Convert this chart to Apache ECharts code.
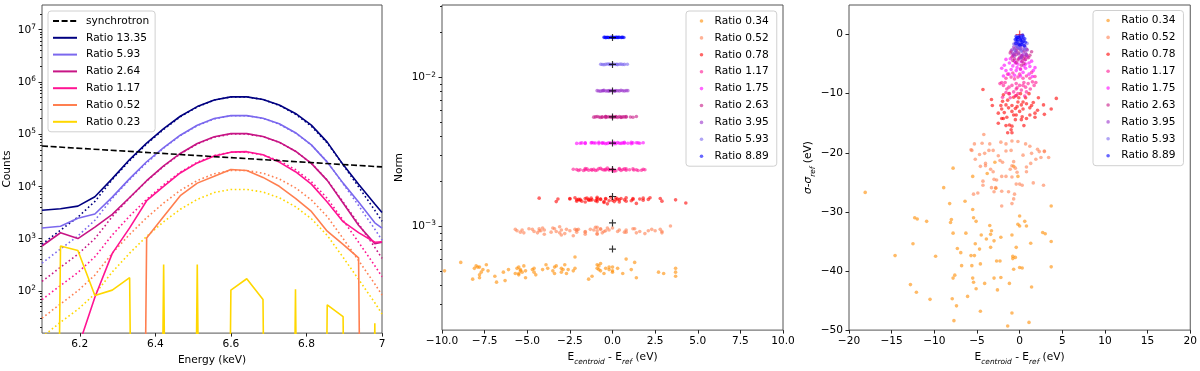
<!DOCTYPE html>
<html>
<head>
<meta charset="utf-8">
<script src="https://cdn.jsdelivr.net/npm/echarts@6.0.0/dist/echarts.min.js"></script>
<style>
  html, body { margin: 0; padding: 0; background: #fff; }
  #chart { width: 1200px; height: 371px; }
</style>
</head>
<body>
<div id="chart"></div>
<script>
const FONT = 'DejaVu Sans';
// empty bin: drawn like matplotlib's clipped zero on a log axis
const Z = 1e-30;

// ---------- left panel: spectra ----------
const energy = [6.1, 6.149, 6.195, 6.24, 6.286, 6.332, 6.377, 6.422, 6.466, 6.511, 6.556,
                6.6, 6.642, 6.685, 6.728, 6.771, 6.813, 6.855, 6.897, 6.938, 6.981, 7.0];
const synchE = [6.1, 6.4, 6.7, 7.0];
const synchCounts = [59000, 43400, 31900, 23500];

const data1335 = [3470, 3720, 4170, 6300, 14000, 32500, 67000, 127000, 219000, 335000, 450000,
                  515000, 515000, 460000, 360000, 248000, 148000, 70000, 26000, 11000, 4600, 3160];
const model1335 = [776, 1450, 2570, 5130, 13500, 30900, 64600, 123000, 214000, 331000, 447000,
                   513000, 513000, 457000, 355000, 240000, 141000, 67600, 25700, 9770, 3470, 2140];
const data593 = [1590, 1720, 2450, 2950, 6200, 14000, 29500, 55000, 95000, 147000, 198000,
                 225000, 225000, 201000, 157000, 106000, 62000, 29000, 11500, 5000, 2000, 1590];
const model593 = [339, 631, 1120, 2240, 5890, 13500, 28200, 53700, 93300, 145000, 195000,
                  224000, 224000, 200000, 155000, 105000, 61700, 29500, 11200, 4270, 1510, 933];
const data264 = [720, 1290, 1000, 1660, 2900, 6100, 12800, 24500, 42500, 66000, 89000,
                 102000, 102000, 90000, 70000, 47000, 27500, 13000, 4800, 1800, 800, 850];
const model264 = [151, 282, 501, 1000, 2630, 6030, 12600, 24000, 41700, 64600, 87100,
                  100000, 100000, 89100, 69200, 46800, 27500, 13200, 5010, 1910, 676, 417];
const data117 = [2, 4, 8, 75, 520, 1600, 5300, 10000, 18000, 28000, 38000,
                 45000, 46000, 40000, 29000, 19000, 11000, 5000, 2100, 1300, 850, 870];
const model117 = [68, 126, 224, 447, 1170, 2690, 5620, 10700, 18600, 28800, 38900,
                  44700, 44700, 39800, 30900, 20900, 12300, 5890, 2240, 851, 302, 186];
const data052 = [Z, Z, Z, Z, Z, Z, 1020, 2630, 6600, 11500, 15500,
                 21000, 20000, 14800, 10000, 5900, 3300, 1380, 776, 427, Z, Z];
const model052 = [30, 56, 100, 200, 525, 1200, 2510, 4790, 8320, 12900, 17400,
                  20000, 20000, 17800, 13800, 9330, 5500, 2630, 1000, 380, 135, 83];
const data023 = [Z, 718, 590, 81, 103, 178, Z, 320, Z, 320, Z,
                 103, 170, 68, Z, 107, Z, 54, 32, Z, 24, Z];
const model023 = [13, 25, 44, 87, 229, 525, 1100, 2090, 3630, 5620, 7590,
                  8710, 8710, 7760, 6030, 4070, 2400, 1150, 437, 166, 59, 36];

const spectra = [
  { label: 'Ratio 13.35', color: '#000080', data: data1335, model: model1335 },
  { label: 'Ratio 5.93', color: '#7b68ee', data: data593, model: model593 },
  { label: 'Ratio 2.64', color: '#c71585', data: data264, model: model264 },
  { label: 'Ratio 1.17', color: '#ff1493', data: data117, model: model117 },
  { label: 'Ratio 0.52', color: '#ff7f50', data: data052, model: model052 },
  { label: 'Ratio 0.23', color: '#ffd700', data: data023, model: model023 }
];

const energyTicks = [6.2, 6.4, 6.6, 6.8, 7.0];
const countTicks = [1e2, 1e3, 1e4, 1e5, 1e6, 1e7];

// ---------- middle / right panels: fits ----------
const ratioNames = ['Ratio 0.34', 'Ratio 0.52', 'Ratio 0.78', 'Ratio 1.17', 'Ratio 1.75',
                    'Ratio 2.63', 'Ratio 3.95', 'Ratio 5.93', 'Ratio 8.89'];
const ratioColors = ['#ff8c00', '#ff7f50', '#ff0000', '#ff1493', '#ff00ff',
                     '#c71585', '#9932cc', '#7b68ee', '#0000ff'];
const refNorm = [0.0007, 0.00105, 0.00158, 0.0024, 0.00361, 0.00541, 0.00809, 0.01218, 0.01846];

const normTicks = [1e-3, 1e-2];
const dETicks = [-10, -7.5, -5, -2.5, 0, 2.5, 5, 7.5, 10];
const dEWideTicks = [-20, -15, -10, -5, 0, 5, 10, 15, 20];
const dSigmaTicks = [-50, -40, -30, -20, -10, 0];

// each point: [E_centroid - E_ref (eV), Norm, sigma - sigma_ref (eV)]
const r034 = [
  [-18.1, 0.00052, -26.7], [-14.6, 0.00047, -37.4], [-12.3, 0.00055, -31.0], [-12.0, 0.00049, -31.2],
  [-12.5, 0.00044, -35.4], [-12.8, 0.00051, -42.3], [-12.1, 0.00058, -43.6], [-10.9, 0.00046, -31.6],
  [-10.5, 0.00053, -44.8], [-9.85, 0.00050, -37.5], [-8.9, 0.00057, -25.9], [-7.8, 0.00053, -22.6],
  [-8.2, 0.00044, -28.6], [-8.1, 0.00052, -31.8], [-8.0, 0.00054, -31.3], [-7.8, 0.00047, -33.6],
  [-7.8, 0.00045, -41.2], [-7.9, 0.00053, -44.7], [-7.7, 0.00049, -48.4], [-7.6, 0.00051, -40.7],
  [-7.4, 0.00055, -45.9], [-7.3, 0.00050, -36.2], [-6.9, 0.00046, -36.9], [-6.8, 0.00042, -39.1],
  [-6.4, 0.00049, -28.2], [-6.3, 0.00043, -33.6], [-6.1, 0.00051, -44.3], [-5.7, 0.00048, -37.4],
  [-5.5, 0.00053, -29.6], [-5.4, 0.00050, -31.0], [-5.6, 0.00052, -39.1], [-5.5, 0.00047, -41.2],
  [-5.4, 0.00051, -41.9], [-5.3, 0.00049, -37.4], [-5.2, 0.00054, -35.4], [-5.1, 0.00045, -31.6],
  [-5.1, 0.00050, -43.0], [-5.5, 0.00048, -24.0], [-4.7, 0.00051, -36.3], [-4.6, 0.00052, -38.8],
  [-4.6, 0.00049, -46.8], [-4.5, 0.00047, -33.9], [-4.1, 0.00051, -42.1], [-3.9, 0.00055, -34.6],
  [-3.5, 0.00050, -32.3], [-3.8, 0.00052, -23.5], [-3.4, 0.00053, -33.8], [-3.4, 0.00048, -36.0],
  [-3.3, 0.00054, -33.2], [-2.9, 0.00051, -21.6], [-3.0, 0.00049, -34.9], [-2.8, 0.00055, -26.0],
  [-3.0, 0.00052, -41.2], [-2.7, 0.00048, -38.3], [-2.6, 0.00051, -43.2], [-2.3, 0.00050, -38.3],
  [-2.2, 0.00062, -41.1], [-2.2, 0.00052, -34.3], [-1.4, 0.00044, -49.3], [-1.2, 0.00046, -42.1],
  [-0.9, 0.00052, -47.1], [-0.9, 0.00055, -33.9], [-0.8, 0.00054, -37.5], [-0.7, 0.00056, -22.3],
  [-0.8, 0.00051, -37.9], [-0.7, 0.00050, -39.7], [-0.5, 0.00048, -37.7], [-0.4, 0.00052, -36.0],
  [-0.2, 0.00053, -24.0], [-0.2, 0.00051, -32.1], [0.0, 0.00050, -30.7], [0.0, 0.00053, -32.4],
  [0.0, 0.00049, -39.4], [0.3, 0.00052, -39.5], [0.6, 0.00048, -31.6], [0.8, 0.00060, -32.4],
  [1.1, 0.00051, -48.7], [1.3, 0.00057, -35.3], [1.4, 0.00045, -42.7], [2.7, 0.00049, -33.5],
  [3.0, 0.00048, -33.7], [3.7, 0.00052, -29.0], [3.7, 0.00049, -39.3], [3.7, 0.00046, -35.0]
];
const r052 = [
  [-5.6, 0.00093, -19.6], [-4.1, 0.00097, -20.1], [-3.6, 0.00091, -19.6], [-3.1, 0.00099, -19.6],
  [-4.7, 0.00095, -20.3], [-5.2, 0.00090, -21.1], [-4.0, 0.00094, -21.8], [-4.0, 0.00088, -22.2],
  [-4.6, 0.00092, -22.3], [-3.4, 0.00096, -22.8], [-2.5, 0.00093, -20.5], [-2.3, 0.00086, -21.3],
  [-2.0, 0.00095, -21.6], [-1.6, 0.00091, -19.7], [-1.0, 0.00098, -19.6], [-1.1, 0.00094, -22.8],
  [-0.9, 0.00089, -22.2], [-0.7, 0.00096, -21.5], [-0.5, 0.00092, -22.6], [-0.3, 0.00097, -23.3],
  [-0.9, 0.00093, -24.1], [-1.6, 0.00088, -24.0], [-2.1, 0.00094, -24.0], [-3.1, 0.00090, -23.2],
  [-2.7, 0.00095, -24.6], [-3.0, 0.00087, -24.5], [-4.3, 0.00093, -24.8], [-4.3, 0.00096, -25.5],
  [-3.3, 0.00092, -25.9], [-2.8, 0.00089, -25.9], [-3.0, 0.00094, -26.6], [-2.1, 0.00091, -26.5],
  [-1.3, 0.00095, -26.6], [-0.6, 0.00090, -27.0], [-0.4, 0.00093, -25.3], [0.0, 0.00097, -25.3],
  [0.3, 0.00092, -25.5], [-0.7, 0.00095, -27.8], [-0.9, 0.00088, -28.6], [-2.1, 0.00094, -29.0],
  [-5.4, 0.00091, -27.0], [-4.9, 0.00096, -26.8], [0.4, 0.00094, -20.4], [1.4, 0.00090, -20.1],
  [2.3, 0.00095, -19.8], [2.9, 0.00092, -19.8], [1.3, 0.00096, -21.8], [1.9, 0.00089, -21.1],
  [2.5, 0.00093, -20.8], [3.4, 0.00100, -20.8], [0.8, 0.00091, -22.4], [0.8, 0.00094, -23.2],
  [1.6, 0.00092, -25.1], [2.8, 0.00095, -25.5], [-4.2, 0.00093, -16.9], [-3.5, 0.00097, -18.5],
  [-5.3, 0.00094, -18.5], [-4.4, 0.00090, -18.4], [-2.2, 0.00095, -18.2], [-1.6, 0.00092, -18.5],
  [-0.9, 0.00098, -18.0], [-0.2, 0.00094, -18.1], [0.7, 0.00091, -18.5], [1.2, 0.00096, -18.9],
  [2.1, 0.00093, -19.4], [2.9, 0.00090, -19.7], [-5.7, 0.00095, -19.5]
];
const r078 = [
  [-4.3, 0.00154, -9.3], [4.3, 0.00143, -10.8], [3.7, 0.00150, -12.6], [2.8, 0.00153, -11.9],
  [2.2, 0.00155, -10.7], [1.6, 0.00152, -11.5], [1.8, 0.00149, -13.3], [1.8, 0.00154, -14.0],
  [1.2, 0.00151, -13.6], [0.8, 0.00147, -14.2], [0.5, 0.00153, -15.4], [0.2, 0.00150, -14.4],
  [0.4, 0.00145, -12.6], [0.2, 0.00155, -11.9], [-0.2, 0.00148, -11.4], [-0.4, 0.00152, -13.6],
  [-0.5, 0.00146, -14.4], [-0.7, 0.00151, -13.6], [-0.9, 0.00156, -12.0], [-1.3, 0.00149, -12.4],
  [-1.6, 0.00153, -11.9], [-2.0, 0.00151, -11.3], [-1.8, 0.00147, -13.2], [-1.5, 0.00154, -14.0],
  [-2.1, 0.00150, -14.2], [-2.5, 0.00152, -15.0], [-1.6, 0.00145, -15.4], [-1.2, 0.00150, -15.3],
  [-0.9, 0.00153, -16.6], [-1.0, 0.00148, -16.1], [-1.4, 0.00151, -16.6], [-2.2, 0.00155, -12.0],
  [-1.4, 0.00149, -11.1], [-0.7, 0.00152, -10.6], [-0.1, 0.00156, -10.7], [0.7, 0.00150, -10.7],
  [0.1, 0.00146, -10.0], [1.2, 0.00153, -12.4], [1.1, 0.00148, -10.0], [-3.2, 0.00152, -12.0],
  [-2.1, 0.00147, -12.6], [-1.9, 0.00151, -14.2], [0.0, 0.00149, -13.0], [-0.5, 0.00144, -12.5],
  [-1.25, 0.00154, -10.0], [2.1, 0.00151, -12.8], [2.9, 0.00147, -13.5], [-0.4, 0.00153, -10.3],
  [0.4, 0.00150, -11.4], [-0.9, 0.00146, -13.0], [0.3, 0.00152, -13.9], [0.8, 0.00155, -11.7],
  [-1.9, 0.00149, -10.2], [-2.5, 0.00153, -13.3], [-0.9, 0.00150, -15.5], [1.4, 0.00142, -12.0],
  [-0.3, 0.00141, -12.2], [-3.3, 0.00146, -11.0]
];
const r117 = [
  [-2.1, 0.00240, -8.1], [-1.7, 0.00236, -8.1], [-1.5, 0.00242, -9.2], [-0.9, 0.00238, -8.6],
  [-0.4, 0.00241, -8.3], [0.0, 0.00237, -8.6], [0.4, 0.00243, -8.6], [1.0, 0.00239, -8.3],
  [1.5, 0.00236, -8.0], [1.8, 0.00241, -7.1], [1.25, 0.00238, -9.2], [0.8, 0.00242, -9.7],
  [0.2, 0.00235, -9.4], [-0.2, 0.00240, -10.0], [-0.7, 0.00244, -9.7], [-1.2, 0.00237, -10.0],
  [-1.9, 0.00239, -8.6], [-1.6, 0.00243, -7.4], [-1.0, 0.00236, -7.2], [-0.6, 0.00240, -7.5],
  [-0.2, 0.00238, -7.2], [0.4, 0.00241, -7.4], [0.8, 0.00237, -7.0], [1.2, 0.00242, -7.4],
  [1.4, 0.00239, -6.4], [-2.0, 0.00236, -10.6], [-1.1, 0.00241, -10.7], [-0.5, 0.00238, -10.4],
  [0.6, 0.00240, -10.4], [-0.8, 0.00243, -6.5], [-1.4, 0.00237, -6.7], [0.0, 0.00241, -6.7],
  [0.5, 0.00236, -8.1], [-1.25, 0.00240, -8.9], [-0.4, 0.00238, -9.2], [0.7, 0.00242, -8.9],
  [-1.6, 0.00239, -9.8], [1.7, 0.00237, -8.6], [-2.3, 0.00241, -8.3], [1.9, 0.00239, -8.1],
  [0.1, 0.00234, -5.8], [-0.3, 0.00245, -9.0]
];
const r175 = [
  [-1.6, 0.00362, -4.2], [-2.1, 0.00359, -5.7], [-1.2, 0.00364, -4.8], [-0.6, 0.00360, -4.5],
  [-0.2, 0.00363, -5.0], [0.2, 0.00358, -4.6], [0.6, 0.00362, -4.3], [1.1, 0.00365, -4.8],
  [1.6, 0.00360, -6.1], [1.8, 0.00363, -5.6], [-1.0, 0.00361, -5.9], [-0.4, 0.00357, -6.1],
  [0.1, 0.00364, -5.9], [0.7, 0.00360, -5.7], [1.2, 0.00362, -5.4], [-0.8, 0.00366, -5.3],
  [-1.6, 0.00359, -6.1], [-1.25, 0.00362, -6.7], [0.4, 0.00360, -6.4], [1.1, 0.00357, -6.7],
  [-0.6, 0.00363, -6.9], [-0.1, 0.00361, -4.1], [-0.8, 0.00358, -3.6], [0.3, 0.00364, -3.5],
  [0.9, 0.00360, -3.8], [-1.8, 0.00362, -5.2], [-0.3, 0.00359, -5.6], [1.4, 0.00363, -4.5],
  [-1.1, 0.00361, -4.1], [-1.9, 0.00360, -7.0], [0.7, 0.00365, -5.0], [0.1, 0.00358, -7.0],
  [1.5, 0.00362, -7.1], [-0.5, 0.00361, -4.8], [0.5, 0.00359, -5.3]
];
const r263 = [
  [-1.0, 0.00541, -2.8], [-0.7, 0.00537, -3.4], [-0.4, 0.00544, -2.7], [-0.1, 0.00539, -3.1],
  [0.2, 0.00542, -3.6], [0.5, 0.00538, -2.8], [0.8, 0.00543, -3.4], [1.05, 0.00540, -3.9],
  [1.4, 0.00545, -2.9], [-0.6, 0.00538, -4.1], [-0.2, 0.00542, -4.3], [0.3, 0.00536, -4.5],
  [0.7, 0.00541, -4.2], [-0.9, 0.00544, -3.8], [0.1, 0.00539, -2.4], [-0.4, 0.00543, -4.75],
  [0.5, 0.00537, -4.9], [0.0, 0.00541, -3.9], [1.2, 0.00538, -3.5], [-0.6, 0.00542, -2.4],
  [0.8, 0.00540, -2.5], [-1.1, 0.00539, -3.1], [0.2, 0.00543, -5.2], [-0.4, 0.00537, -3.4],
  [0.6, 0.00541, -3.75], [-0.3, 0.00540, -2.0], [0.4, 0.00544, -4.0], [-0.8, 0.00540, -4.4]
];
const r395 = [
  [-0.9, 0.00812, -2.6], [-0.7, 0.00806, -2.1], [-0.5, 0.00815, -3.0], [-0.3, 0.00809, -2.4],
  [-0.1, 0.00813, -3.3], [0.1, 0.00807, -2.0], [0.3, 0.00811, -2.8], [0.5, 0.00816, -2.3],
  [0.7, 0.00808, -3.1], [0.9, 0.00812, -2.6], [-0.6, 0.00810, -3.6], [-0.2, 0.00805, -1.7],
  [0.2, 0.00814, -3.8], [0.6, 0.00810, -1.9], [-0.8, 0.00808, -3.2], [0.8, 0.00813, -3.5],
  [0.0, 0.00811, -2.5], [-0.4, 0.00807, -2.9], [0.4, 0.00809, -3.4], [-0.2, 0.00814, -2.2],
  [0.15, 0.00806, -4.0], [-0.55, 0.00812, -1.6]
];
const r593 = [
  [-0.69, 0.01221, -1.6], [-0.5, 0.01214, -1.1], [-0.3, 0.01226, -2.0], [-0.1, 0.01218, -1.4],
  [0.1, 0.01223, -2.4], [0.3, 0.01215, -1.2], [0.5, 0.01224, -1.8], [0.7, 0.01219, -2.2],
  [0.87, 0.01222, -1.5], [-0.6, 0.01217, -2.6], [-0.2, 0.01225, -0.9], [0.2, 0.01216, -2.8],
  [0.4, 0.01221, -0.8], [-0.4, 0.01220, -1.9], [0.6, 0.01218, -2.5], [0.0, 0.01223, -1.7],
  [-0.15, 0.01216, -2.2], [0.25, 0.01222, -1.3]
];
const r889 = [
  [-0.5, 0.01852, -0.8], [-0.4, 0.01845, -0.3], [-0.3, 0.01857, -1.2], [-0.2, 0.01848, -0.5],
  [-0.1, 0.01855, -1.6], [0.0, 0.01850, -0.2], [0.1, 0.01846, -1.0], [0.2, 0.01856, -0.6],
  [0.3, 0.01849, -1.4], [0.4, 0.01853, -0.4], [0.5, 0.01847, -1.1], [0.6, 0.01855, -0.7],
  [0.67, 0.01850, -1.3], [-0.45, 0.01854, -1.5], [-0.25, 0.01847, -0.9], [0.05, 0.01853, -1.8],
  [0.35, 0.01851, -0.1], [0.15, 0.01848, -0.9], [-0.05, 0.01856, -0.5], [0.25, 0.01852, -1.7],
  [-0.35, 0.01849, -0.6], [0.55, 0.01851, -1.9]
];
const fits = [r034, r052, r078, r117, r175, r263, r395, r593, r889];

// ---------- helpers ----------
const TXT = { color: '#000', fontFamily: FONT, fontSize: 10.6 };
const PLUS = 'path://M2.5,0H3.5V2.5H6V3.5H3.5V6H2.5V3.5H0V2.5H2.5Z';

function minorDecades(lo, hi) {
  // 2..9 x 10^n between lo and hi, for minor ticks of log axes
  const out = [];
  for (let e = Math.floor(Math.log10(lo)); e <= Math.ceil(Math.log10(hi)); e++) {
    for (let k = 2; k <= 9; k++) {
      const v = k * Math.pow(10, e);
      if (v > lo && v < hi) out.push(v);
    }
  }
  return out;
}

function pow10Label(v) {
  const l = Math.log10(v);
  const e = Math.round(l);
  if (Math.abs(l - e) > 1e-6) return '';
  return '{b|10}{s|' + (e < 0 ? '\u2212' + (-e) : e) + '}';
}
const supRich = {
  b: Object.assign({ verticalAlign: 'bottom' }, TXT),
  s: { color: '#000', fontFamily: FONT, fontSize: 7.4, verticalAlign: 'bottom', padding: [0, 0, 5, 0] }
};
const subRich = {
  n: Object.assign({ verticalAlign: 'bottom', padding: [0, 0, 3, 0] }, TXT),
  i: Object.assign({ verticalAlign: 'bottom', padding: [0, 0, 3, 0], fontStyle: 'italic' }, TXT),
  sub: { color: '#000', fontFamily: FONT, fontSize: 7.4, fontStyle: 'italic', verticalAlign: 'bottom' }
};
const minusFmt = (digits) => (v) => (v < 0 ? '\u2212' : '') + Math.abs(v).toFixed(digits);

function axis(o) {
  return Object.assign({
    axisLine: { show: false, onZero: false },
    splitLine: { show: false },
    nameLocation: 'middle',
    nameTextStyle: Object.assign({}, TXT)
  }, o, {
    axisTick: Object.assign({ show: true, length: 3.5, lineStyle: { color: '#222', width: 1 } }, o.axisTick),
    axisLabel: Object.assign({ margin: 6 }, TXT, o.axisLabel)
  });
}
function minorAxis(grid, min, max) {
  return {
    type: 'log', gridIndex: grid, min, max, position: 'left',
    axisLine: { show: false, onZero: false }, splitLine: { show: false }, axisLabel: { show: false },
    axisTick: { show: true, length: 2, customValues: minorDecades(min, max), lineStyle: { color: '#222', width: 1 } }
  };
}

// ---------- series ----------
const series = [];
series.push({
  type: 'line', name: 'synchrotron', xAxisIndex: 0, yAxisIndex: 0,
  data: synchE.map((e, i) => [e, synchCounts[i]]),
  symbol: 'none', silent: true, z: 4,
  lineStyle: { color: '#000', width: 1.6, type: [6, 2.6] }, itemStyle: { color: '#000' }
});
spectra.forEach((s) => {
  series.push({
    type: 'line', name: 'model:' + s.label, xAxisIndex: 0, yAxisIndex: 0,
    data: energy.map((e, i) => [e, s.model[i]]),
    symbol: 'none', silent: true, z: 2,
    lineStyle: { color: s.color, width: 1.6, type: [1.6, 2.6] }, itemStyle: { color: s.color }
  });
});
spectra.forEach((s) => {
  series.push({
    type: 'line', name: 'spec:' + s.label, xAxisIndex: 0, yAxisIndex: 0,
    data: energy.map((e, i) => [e, s.data[i]]),
    symbol: 'none', silent: true, z: 3,
    lineStyle: { color: s.color, width: 1.6 }, itemStyle: { color: s.color }
  });
});

// middle: norm vs centroid offset
fits.forEach((pts, i) => {
  series.push({
    type: 'scatter', name: ratioNames[i], xAxisIndex: 1, yAxisIndex: 2,
    data: pts.map((p) => [p[0], p[1]]),
    symbolSize: 3.6, silent: true, itemStyle: { color: ratioColors[i], opacity: 0.6 }
  });
});
series.push({
  type: 'scatter', name: 'ref', xAxisIndex: 1, yAxisIndex: 2,
  data: refNorm.map((n) => [0, n]), symbol: PLUS, symbolSize: 7, silent: true, z: 5,
  itemStyle: { color: '#000' }
});

// right: width offset vs centroid offset
series.push({
  type: 'scatter', name: 'ref0', xAxisIndex: 2, yAxisIndex: 4,
  data: [[0, 0]], symbol: PLUS, symbolSize: 8, silent: true, z: 1,
  itemStyle: { color: '#ff3030', opacity: 0.8 }
});
fits.forEach((pts, i) => {
  series.push({
    type: 'scatter', name: ratioNames[i], xAxisIndex: 2, yAxisIndex: 4,
    data: pts.map((p) => [p[0], p[2]]),
    symbolSize: 3.6, silent: true, itemStyle: { color: ratioColors[i], opacity: 0.6 }
  });
});

const legendBox = {
  orient: 'vertical', selectedMode: false,
  backgroundColor: 'rgba(255,255,255,0.8)', borderColor: '#d0d0d0', borderWidth: 1, borderRadius: 3
};
const ratioLegendData = ratioNames.map((n, i) => ({
  name: n, icon: 'circle', itemStyle: { color: ratioColors[i], opacity: 0.6 }
}));

const option = {
  animation: false,
  backgroundColor: '#fff',
  grid: [
    { left: 42, top: 5, width: 340, height: 331, show: true, borderColor: '#555', borderWidth: 1 },
    { left: 442, top: 5, width: 341, height: 332, show: true, borderColor: '#555', borderWidth: 1 },
    { left: 849, top: 5, width: 342, height: 331, show: true, borderColor: '#555', borderWidth: 1 }
  ],
  xAxis: [
    axis({ type: 'value', gridIndex: 0, min: 6.1, max: 7.0, name: 'Energy (keV)', nameGap: 20,
      axisTick: { customValues: energyTicks }, axisLabel: { customValues: energyTicks } }),
    axis({ type: 'value', gridIndex: 1, min: -10, max: 10, nameGap: 19,
      name: '{n|E}{sub|centroid}{n| - E}{sub|ref}{n| (eV)}',
      nameTextStyle: Object.assign({ rich: subRich }, TXT),
      axisTick: { customValues: dETicks }, axisLabel: { customValues: dETicks, formatter: minusFmt(1) } }),
    axis({ type: 'value', gridIndex: 2, min: -20, max: 20, nameGap: 19,
      name: '{n|E}{sub|centroid}{n| - E}{sub|ref}{n| (eV)}',
      nameTextStyle: Object.assign({ rich: subRich }, TXT),
      axisTick: { customValues: dEWideTicks }, axisLabel: { customValues: dEWideTicks, formatter: minusFmt(0) } })
  ],
  yAxis: [
    axis({ type: 'log', gridIndex: 0, min: 15.5, max: 2.95e7, name: 'Counts', nameGap: 29,
      axisTick: { customValues: countTicks },
      axisLabel: { customValues: countTicks, formatter: pow10Label, rich: supRich } }),
    minorAxis(0, 15.5, 2.95e7),
    axis({ type: 'log', gridIndex: 1, min: 2e-4, max: 0.03055, name: 'Norm', nameGap: 37,
      axisTick: { customValues: normTicks },
      axisLabel: { customValues: normTicks, formatter: pow10Label, rich: supRich } }),
    minorAxis(1, 2e-4, 0.03055),
    axis({ type: 'value', gridIndex: 2, min: -50, max: 5, nameGap: 30,
      name: '{i|\u03c3}{n|-}{i|\u03c3}{sub|ref}{n| (eV)}',
      nameTextStyle: Object.assign({ rich: subRich }, TXT),
      axisTick: { customValues: dSigmaTicks }, axisLabel: { customValues: dSigmaTicks, formatter: minusFmt(0) } })
  ],
  legend: [
    Object.assign({}, legendBox, {
      left: 48, top: 11, padding: [4, 6, 4, 4],
      // tiny item height: line-series legend icons then show only the line
      itemWidth: 24, itemHeight: 1, itemGap: 4.8,
      data: ['synchrotron'].concat(spectra.map((s) => 'spec:' + s.label)),
      formatter: (n) => n.replace('spec:', ''),
      textStyle: Object.assign({ lineHeight: 12, padding: [0, 0, 0, 4] }, TXT)
    }),
    Object.assign({}, legendBox, {
      left: 686, top: 11, padding: [4, 8, 4, 13.7],
      itemWidth: 3.6, itemHeight: 3.6, itemGap: 4.9,
      data: ratioLegendData,
      textStyle: Object.assign({ lineHeight: 12, padding: [0, 0, 0, 6.3] }, TXT)
    }),
    Object.assign({}, legendBox, {
      left: 1093, top: 10.5, padding: [4, 8, 4, 13.3],
      itemWidth: 3.6, itemHeight: 3.6, itemGap: 4.9,
      data: ratioLegendData,
      textStyle: Object.assign({ lineHeight: 12, padding: [0, 0, 0, 6.4] }, TXT)
    })
  ],
  series
};

const chart = echarts.init(document.getElementById('chart'), null, { renderer: 'canvas' });
chart.setOption(option);
window.addEventListener('resize', () => chart.resize());
</script>
</body>
</html>
